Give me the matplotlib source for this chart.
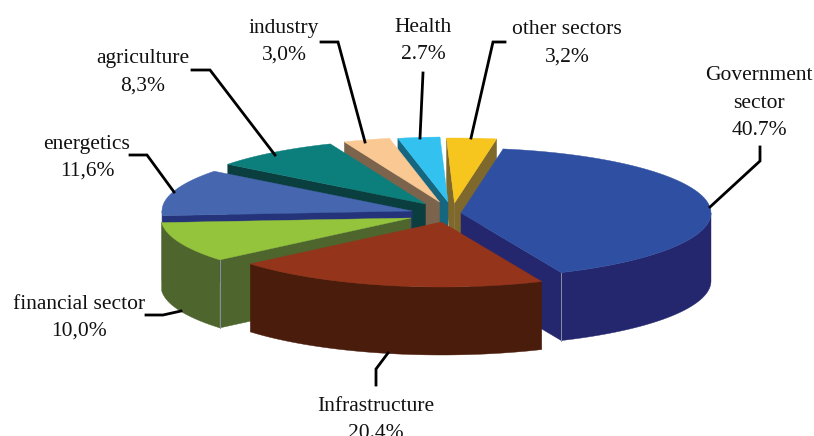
#!/usr/bin/env python3
# 3D-looking exploded pie, drawn by hand because matplotlib has no 3D pie
import numpy as np
import matplotlib
matplotlib.use("Agg")
import matplotlib.pyplot as plt

sectors = ["Government\nsector", "Infrastructure", "financial sector", "energetics",
           "agriculture", "industry", "Health", "other sectors"]
shares = [40.7, 20.4, 10.0, 11.6, 8.3, 3.0, 2.7, 3.2]
share_text = ["40.7%", "20.4%", "10,0%", "11,6%", "8,3%", "3,0%", "2.7%", "3,2%"]

# layout, in image pixels
apex = [(461, 213), (441.5, 222), (411, 218), (412, 211), (425.5, 204), (439.5, 202), (448, 202), (454.5, 203)]
label_xy = [(759, 76), (376, 406), (79, 304), (87, 144), (143, 59), (284, 28), (423, 27), (567, 30)]
leaders = [
    [(710, 207), (760, 161), (760, 147)],
    [(388, 353), (376, 369), (376, 385)],
    [(181, 311), (163, 315), (146, 315)],
    [(174, 192), (147, 155), (130, 155)],
    [(275, 155), (210, 70), (192, 70)],
    [(365, 142), (338, 42), (321, 42)],
    [(420, 138), (423, 73)],
    [(471, 138), (493, 42), (505, 42)],
]
top_col = ["#2f50a2", "#93341b", "#93c43b", "#4666b0", "#0c7f7c", "#fac993", "#33c2f0", "#f6c61f"]
side_col = ["#24276e", "#4a1c0b", "#4f652e", "#25347a", "#0b3f3f", "#7c644c", "#17667f", "#7f682b"]
RX, RY, DEPTH = 250, 65, 68
START = 80.3


def arc(c, a0, a1, dy=0):
    t = np.radians(np.linspace(a0, a1, 80))
    return np.column_stack([c[0] + RX * np.cos(t), c[1] - RY * np.sin(t) + dy])


fig = plt.figure(figsize=(8.14, 4.36), dpi=100)
ax = fig.add_axes([0, 0, 1, 1])
ax.set_xlim(0, 814)
ax.set_ylim(436, 0)
ax.axis("off")

sweep = np.array(shares) / sum(shares) * 360
ends = START - np.cumsum(sweep)
starts = ends + sweep

# back to front, so nearer slices hide the walls of the ones behind them
for i in [7, 6, 5, 4, 3, 2, 0, 1]:
    c, a0, a1 = apex[i], starts[i], ends[i]
    # cut faces that turn towards the viewer
    for ang, vis in ((a0, np.cos(np.radians(a0)) < 0), (a1, np.cos(np.radians(a1)) > 0)):
        if vis:
            p = arc(c, ang, ang)[0]
            ax.fill([c[0], p[0], p[0], c[0]], [c[1], p[1], p[1] + DEPTH, c[1] + DEPTH],
                    color=side_col[i], lw=0.3)
    # outer wall, only the front half of the ellipse shows
    lo, hi = max(a1, -180), min(a0, 0)
    if lo < hi:
        up = arc(c, lo, hi)
        down = arc(c, hi, lo, DEPTH)
        ax.fill(*np.vstack([up, down]).T, color=side_col[i], lw=0.3)
    # top face
    ax.fill(*np.vstack([[c], arc(c, a0, a1)]).T, color=top_col[i], lw=0.3)

for i, ang in ((0, ends[0]), (2, starts[2])):
    # pale line on the corner between cut face and outer wall
    p = arc(apex[i], ang, ang)[0]
    ax.plot([p[0], p[0]], [p[1], p[1] + DEPTH], color="#8a8fa8", lw=0.7, zorder=1.5)

for pts in leaders:
    x, y = zip(*pts)
    ax.plot(x, y, color="black", lw=2, solid_joinstyle="miter")

for name, val, (x, y) in zip(sectors, share_text, label_xy):
    for k, line in enumerate(name.split("\n") + [val]):
        ax.text(x, y + k * 27.3, line, ha="center", va="center", color="#111111",
                family="Liberation Serif", fontsize=15.5)

fig.savefig("out.png", dpi=100)
